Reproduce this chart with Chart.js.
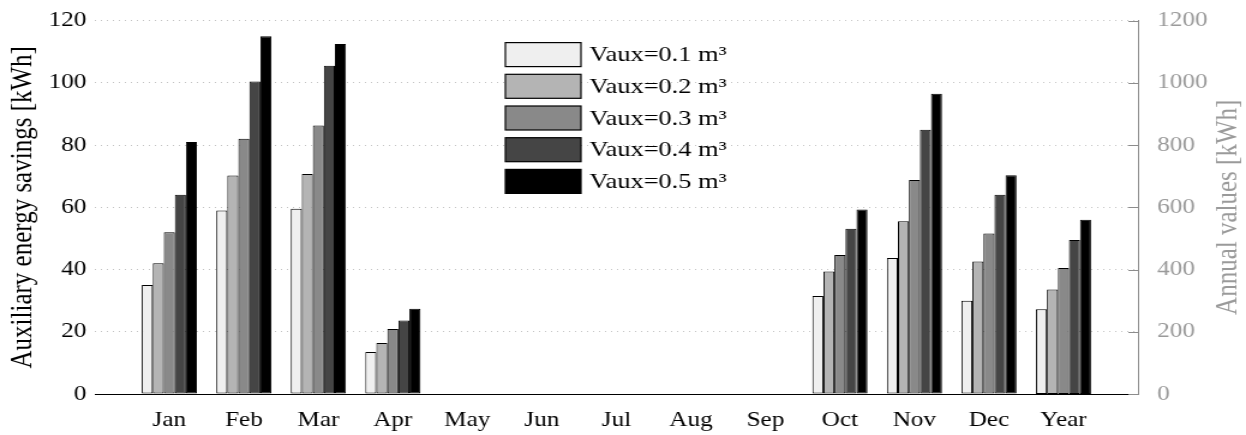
<!DOCTYPE html>
<html>
<head>
<meta charset="utf-8">
<script src="https://cdn.jsdelivr.net/npm/chart.js@4"></script>
<style>
  html, body { margin: 0; padding: 0; background: #fff; }
  #chart { display: block; }
</style>
</head>
<body>
<!-- drawn narrower and widened by css, text comes out wide like the original figure -->
<canvas id="chart" width="1038" height="435" style="width:1246px;height:435px"></canvas>
<script>
const months = ['Jan', 'Feb', 'Mar', 'Apr', 'May', 'Jun', 'Jul', 'Aug', 'Sep', 'Oct', 'Nov', 'Dec'];
const yearLabel = 'Year';
const vauxLabels = ['Vaux=0.1 m³', 'Vaux=0.2 m³', 'Vaux=0.3 m³', 'Vaux=0.4 m³', 'Vaux=0.5 m³'];
const vauxColors = ['#efefef', '#b4b4b4', '#898989', '#454545', '#000000'];

// monthly auxiliary energy savings [kWh], left axis
const savings01 = [35, 59, 59.5, 13.5, 0, 0, 0, 0, 0, 31.5, 43.7, 30];
const savings02 = [42, 70.2, 70.7, 16.4, 0, 0, 0, 0, 0, 39.4, 55.5, 42.6];
const savings03 = [52, 82, 86.3, 20.9, 0, 0, 0, 0, 0, 44.7, 68.8, 51.6];
const savings04 = [64, 100.4, 105.5, 23.6, 0, 0, 0, 0, 0, 53.1, 84.9, 64];
const savings05 = [81, 115, 112.5, 27.4, 0, 0, 0, 0, 0, 59.3, 96.5, 70.3];
const monthlySavings = [savings01, savings02, savings03, savings04, savings05];

// yearly totals [kWh], right axis
const annualSavings = [272, 336, 405, 495, 560];

const leftTicks = { min: 0, max: 120, step: 20 };
const rightTicks = { min: 0, max: 1200, step: 200 };

const serif = "'Liberation Serif', 'Times New Roman', serif";
const axisGray = '#8c8c8c';
const labelGray = '#9a9a9a';

// blank slots either side so the months sit one step in from the box edges
const categories = ['', ...months, yearLabel, ''];

const datasets = [];
vauxLabels.forEach((label, i) => {
  datasets.push({
    label,
    yAxisID: 'y',
    data: [null, ...monthlySavings[i], null, null],
    backgroundColor: vauxColors[i],
    borderColor: '#000',
    borderWidth: 1,
    borderSkipped: false,
    skipNull: true
  });
});
vauxLabels.forEach((label, i) => {
  datasets.push({
    label: label + ' annual',
    yAxisID: 'y1',
    data: [null, ...months.map(() => null), annualSavings[i], null],
    backgroundColor: vauxColors[i],
    borderColor: '#000',
    borderWidth: 1,
    borderSkipped: false,
    skipNull: true
  });
});

// right axis ticks pointing inwards, its title and the legend box
const decor = {
  id: 'decor',
  afterDraw(chart) {
    const { ctx, chartArea, scales } = chart;
    const y1 = scales.y1;
    ctx.save();

    ctx.strokeStyle = axisGray;
    ctx.lineWidth = 1;
    y1.ticks.forEach(t => {
      const py = Math.round(y1.getPixelForValue(t.value)) + 0.5;
      ctx.beginPath();
      ctx.moveTo(y1.left - 8, py);
      ctx.lineTo(y1.left, py);
      ctx.stroke();
    });

    ctx.save();
    ctx.translate(y1.right - 15, (chartArea.top + chartArea.bottom) / 2);
    ctx.rotate(-Math.PI / 2);
    ctx.fillStyle = labelGray;
    ctx.font = '25px ' + serif;
    ctx.textAlign = 'center';
    ctx.textBaseline = 'middle';
    ctx.fillText('Annual values [kWh]', 0, 0);
    ctx.restore();

    const lx = chartArea.left + 342;
    const ly = chartArea.top + 22;
    ctx.font = '22px ' + serif;
    ctx.textAlign = 'left';
    ctx.textBaseline = 'middle';
    vauxLabels.forEach((label, i) => {
      const top = ly + i * 31.7;
      ctx.fillStyle = vauxColors[i];
      ctx.fillRect(lx, top, 63, 24);
      ctx.strokeStyle = '#000';
      ctx.lineWidth = 1.2;
      ctx.strokeRect(lx, top, 63, 24);
      ctx.fillStyle = '#000';
      ctx.fillText(label, lx + 70, top + 13);
    });

    ctx.restore();
  }
};

new Chart(document.getElementById('chart'), {
  type: 'bar',
  data: { labels: categories, datasets },
  plugins: [decor],
  options: {
    responsive: false,
    animation: false,
    layout: { padding: { top: 18, left: 0, right: 0, bottom: 0 } },
    datasets: { bar: { categoryPercentage: 0.74, barPercentage: 1 } },
    plugins: { legend: { display: false }, tooltip: { enabled: false } },
    scales: {
      x: {
        offset: false,
        afterFit: s => { s.height = 41; },
        grid: { display: false },
        border: { display: true, color: '#000', width: 1 },
        ticks: {
          autoSkip: false, maxRotation: 0, padding: 6,
          color: '#000', font: { family: serif, size: 21 }
        }
      },
      y: {
        position: 'left',
        min: leftTicks.min, max: leftTicks.max,
        afterFit: s => { s.width = 79; },
        grid: {
          drawTicks: false,
          color: c => (c.tick && c.tick.value === 0 ? 'rgba(0,0,0,0)' : '#c4c4c4')
        },
        border: { display: false, dash: [1, 4] },
        ticks: {
          stepSize: leftTicks.step, padding: 7,
          color: '#000', font: { family: serif, size: 21 }
        },
        title: {
          display: true, text: 'Auxiliary energy savings [kWh]',
          color: '#000', font: { family: serif, size: 25 },
          padding: { top: 4, bottom: 0 }
        }
      },
      y1: {
        position: 'right',
        min: rightTicks.min, max: rightTicks.max,
        afterFit: s => { s.width = 90; },
        grid: { display: false },
        border: { display: true, color: axisGray, width: 1 },
        ticks: {
          stepSize: rightTicks.step, padding: 8,
          color: labelGray, font: { family: serif, size: 21 },
          callback: v => String(v)
        }
      }
    }
  }
});
</script>
</body>
</html>
